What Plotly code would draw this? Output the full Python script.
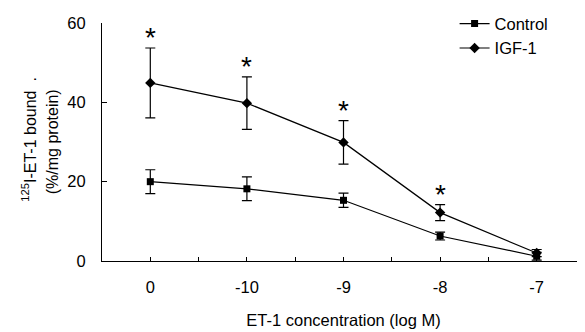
import plotly.graph_objects as go

categories = ["0", "-10", "-9", "-8", "-7"]
control_mean = [20.0, 18.2, 15.3, 6.3, 1.2]
control_err = [3.0, 3.0, 1.8, 1.0, 1.0]
igf_mean = [44.9, 39.8, 29.9, 12.2, 2.0]
igf_err = [8.8, 6.6, 5.5, 2.0, 0.9]
significant = [True, True, True, True, False]

xpos = list(range(len(categories)))
FONT = "Liberation Sans, Arial, sans-serif"

fig = go.Figure()
fig.add_trace(go.Scatter(
    x=xpos, y=control_mean, name="Control", mode="lines+markers",
    line=dict(color="black", width=1.2),
    marker=dict(symbol="square", size=7, color="black"),
    error_y=dict(type="data", array=control_err, color="black", thickness=1.2, width=5),
))
fig.add_trace(go.Scatter(
    x=xpos, y=igf_mean, name="IGF-1", mode="lines+markers",
    line=dict(color="black", width=1.2),
    marker=dict(symbol="diamond", size=8, color="black"),
    error_y=dict(type="data", array=igf_err, color="black", thickness=1.2, width=5),
))

for i, s in enumerate(significant):
    if s:
        fig.add_annotation(x=xpos[i], y=igf_mean[i] + igf_err[i], text="*",
                           showarrow=False, yshift=10,
                           font=dict(size=28, color="black", family=FONT))

# y-axis title, two lines
fig.add_annotation(xref="paper", yref="paper", x=-0.151, y=0.51, xanchor="center", yanchor="middle",
                   text="<sup>125</sup>I-ET-1 bound" + "&nbsp;" * 2 + ".", textangle=-90, showarrow=False,
                   font=dict(size=16, color="black", family=FONT))
fig.add_annotation(xref="paper", yref="paper", x=-0.103, y=0.5, xanchor="center", yanchor="middle",
                   text="(%/mg protein)", textangle=-90, showarrow=False,
                   font=dict(size=16, color="black", family=FONT))

tickvals = [v / 2 for v in range(0, 2 * len(categories) - 1)]
ticktext = [categories[int(v)] if v == int(v) else "" for v in tickvals]

fig.update_layout(
    width=577, height=324,
    margin=dict(l=94, r=0, t=15, b=71, autoexpand=False),
    paper_bgcolor="white", plot_bgcolor="white",
    font=dict(family=FONT, size=16.5, color="black"),
    showlegend=True,
    legend=dict(x=0.73, y=1.07, xanchor="left", yanchor="top",
                bgcolor="rgba(0,0,0,0)", font=dict(size=16.5),
                itemwidth=30, tracegroupgap=0),
    xaxis=dict(range=[-0.5, 4.5], tickmode="array", tickvals=tickvals, ticktext=ticktext,
               showline=True, linecolor="black", linewidth=1, ticks="inside", ticklen=4,
               tickcolor="black", showgrid=False, zeroline=False, ticklabelstandoff=11,
               automargin=False,
               title=dict(text="ET-1 concentration (log M)", standoff=19, font=dict(size=16.5))),
    yaxis=dict(range=[0, 60], tickvals=[0, 20, 40, 60],
               showline=True, linecolor="black", linewidth=1, ticks="inside", ticklen=5,
               tickcolor="black", showgrid=False, zeroline=False, ticklabelstandoff=12,
               automargin=False),
)

fig.write_html("out.html")
